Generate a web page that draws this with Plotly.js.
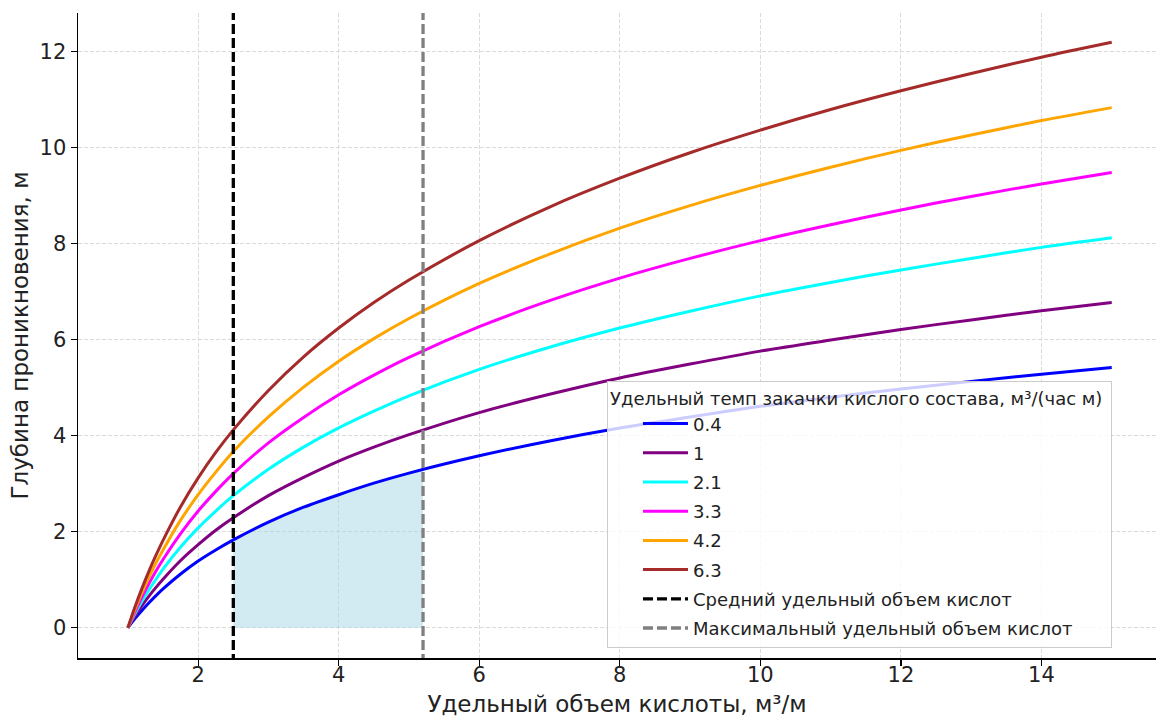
<!DOCTYPE html>
<html>
<head>
<meta charset="utf-8">
<script src="https://cdn.plot.ly/plotly-3.0.1.min.js"></script>
<style>html,body{margin:0;padding:0;background:#fff;}#chart{width:1156px;height:717px;}</style>
</head>
<body>
<div id="chart"></div>
<script>
// Удельный объем кислоты, м³/м
const xVals = [1, 1.1, 1.2, 1.3, 1.4, 1.5, 1.75, 2, 2.25, 2.5, 3, 3.5, 4, 4.5, 5, 6, 7, 8, 9, 10, 11, 12, 13, 14, 15];
// Глубина проникновения, м — per injection rate
const rateLabels = ["0.4", "1", "2.1", "3.3", "4.2", "6.3"];
const y04 = [0, 0.19, 0.36, 0.52, 0.67, 0.81, 1.12, 1.39, 1.62, 1.83, 2.20, 2.51, 2.77, 3.01, 3.22, 3.58, 3.89, 4.16, 4.39, 4.61, 4.80, 4.97, 5.13, 5.28, 5.42];
const y10 = [0, 0.24, 0.46, 0.66, 0.84, 1.01, 1.40, 1.73, 2.03, 2.29, 2.75, 3.13, 3.47, 3.76, 4.02, 4.48, 4.86, 5.20, 5.49, 5.76, 5.99, 6.21, 6.41, 6.60, 6.77];
const y21 = [0, 0.29, 0.55, 0.79, 1.01, 1.22, 1.68, 2.08, 2.43, 2.75, 3.30, 3.76, 4.16, 4.51, 4.83, 5.38, 5.84, 6.24, 6.59, 6.91, 7.19, 7.45, 7.69, 7.92, 8.12];
const y33 = [0, 0.33, 0.64, 0.92, 1.18, 1.42, 1.96, 2.43, 2.84, 3.21, 3.85, 4.38, 4.85, 5.26, 5.63, 6.27, 6.81, 7.28, 7.69, 8.06, 8.39, 8.70, 8.98, 9.24, 9.48];
const y42 = [0, 0.38, 0.73, 1.05, 1.35, 1.62, 2.24, 2.77, 3.24, 3.67, 4.39, 5.01, 5.55, 6.02, 6.44, 7.17, 7.78, 8.32, 8.79, 9.21, 9.59, 9.94, 10.26, 10.56, 10.83];
const y63 = [0, 0.43, 0.82, 1.18, 1.51, 1.82, 2.52, 3.12, 3.65, 4.12, 4.94, 5.64, 6.24, 6.77, 7.24, 8.06, 8.76, 9.36, 9.89, 10.36, 10.79, 11.18, 11.54, 11.88, 12.19];
const seriesY = [y04, y10, y21, y33, y42, y63];
const seriesColors = ["#0000ff", "#800080", "#00ffff", "#ff00ff", "#ffa500", "#a52a2a"];

// Shaded region under the 0.4 curve between the two volumes
const fillX = [2.5, 2.75, 3, 3.25, 3.5, 4, 4.5, 5, 5.2];
const fillY = [1.83, 2.02, 2.20, 2.36, 2.51, 2.77, 3.01, 3.22, 3.30];

const avgVolume = 2.5;
const maxVolume = 5.2;
const avgLabel = "Средний удельный объем кислот";
const maxLabel = "Максимальный удельный объем кислот";
const legendTitle = "Удельный темп закачки кислого состава, м³/(час м)";

const yRange = [-0.63, 12.8];
const traces = [];
traces.push({
  x: fillX, y: fillY, type: "scatter", mode: "lines",
  fill: "tozeroy", fillcolor: "rgba(173,216,230,0.55)",
  line: {width: 0, color: "rgba(0,0,0,0)"}, showlegend: false, hoverinfo: "skip"
});
seriesY.forEach((ys, i) => {
  traces.push({
    x: xVals, y: ys, type: "scatter", mode: "lines", name: rateLabels[i],
    legendgroup: "g" + i,
    line: {color: seriesColors[i], width: 3, shape: "spline", smoothing: 0.8}
  });
});
traces.push({
  x: [avgVolume, avgVolume], y: [yRange[0] - 1, yRange[1] + 1], type: "scatter", mode: "lines",
  name: avgLabel, legendgroup: "avg",
  line: {color: "#000000", width: 3.3, dash: "10px,4px"}
});
traces.push({
  x: [maxVolume, maxVolume], y: [yRange[0] - 1, yRange[1] + 1], type: "scatter", mode: "lines",
  name: maxLabel, legendgroup: "max",
  line: {color: "#808080", width: 3.3, dash: "10px,4px"}
});

const font = {family: "DejaVu Sans, sans-serif", color: "#222"};
const layout = {
  width: 1156, height: 717,
  margin: {l: 78, r: 0, t: 13, b: 59},
  paper_bgcolor: "#fff", plot_bgcolor: "#fff",
  font: font,
  showlegend: true,
  xaxis: {
    range: [0.29, 15.63],
    tickvals: [2, 4, 6, 8, 10, 12, 14],
    ticks: "outside", ticklen: 6, tickwidth: 1.2, tickcolor: "#000",
    tickfont: {size: 21, family: font.family, color: "#222"},
    ticklabelstandoff: -9,
    showline: true, linecolor: "#000", linewidth: 1.5, mirror: false,
    showgrid: true, gridcolor: "#dadada", gridwidth: 1, griddash: "4px,2px",
    zeroline: false,
    title: {text: "Удельный объем кислоты, м³/м", font: {size: 23, family: font.family, color: "#222"}, standoff: 12}
  },
  yaxis: {
    range: yRange,
    tickvals: [0, 2, 4, 6, 8, 10, 12],
    ticks: "outside", ticklen: 6, tickwidth: 1.2, tickcolor: "#000",
    tickfont: {size: 21, family: font.family, color: "#222"},
    showline: true, linecolor: "#000", linewidth: 1.5, mirror: false,
    showgrid: true, gridcolor: "#dadada", gridwidth: 1, griddash: "4px,2px",
    zeroline: false,
    title: {text: "Глубина проникновения, м", font: {size: 23, family: font.family, color: "#222"}, standoff: 4}
  },
  legend: {
    x: 0.4907, y: 0.0155, xanchor: "left", yanchor: "bottom",
    bgcolor: "rgba(255,255,255,0.8)", bordercolor: "#cccccc", borderwidth: 1,
    font: {size: 18, family: font.family, color: "#222"},
    title: {text: legendTitle + "\u00a0", font: {size: 18, family: font.family, color: "#222"}},
    traceorder: "grouped", tracegroupgap: 2.8,
    indentation: 30, itemwidth: 45
  }
};
Plotly.newPlot("chart", traces, layout, {displayModeBar: false, staticPlot: true});
</script>
</body>
</html>
